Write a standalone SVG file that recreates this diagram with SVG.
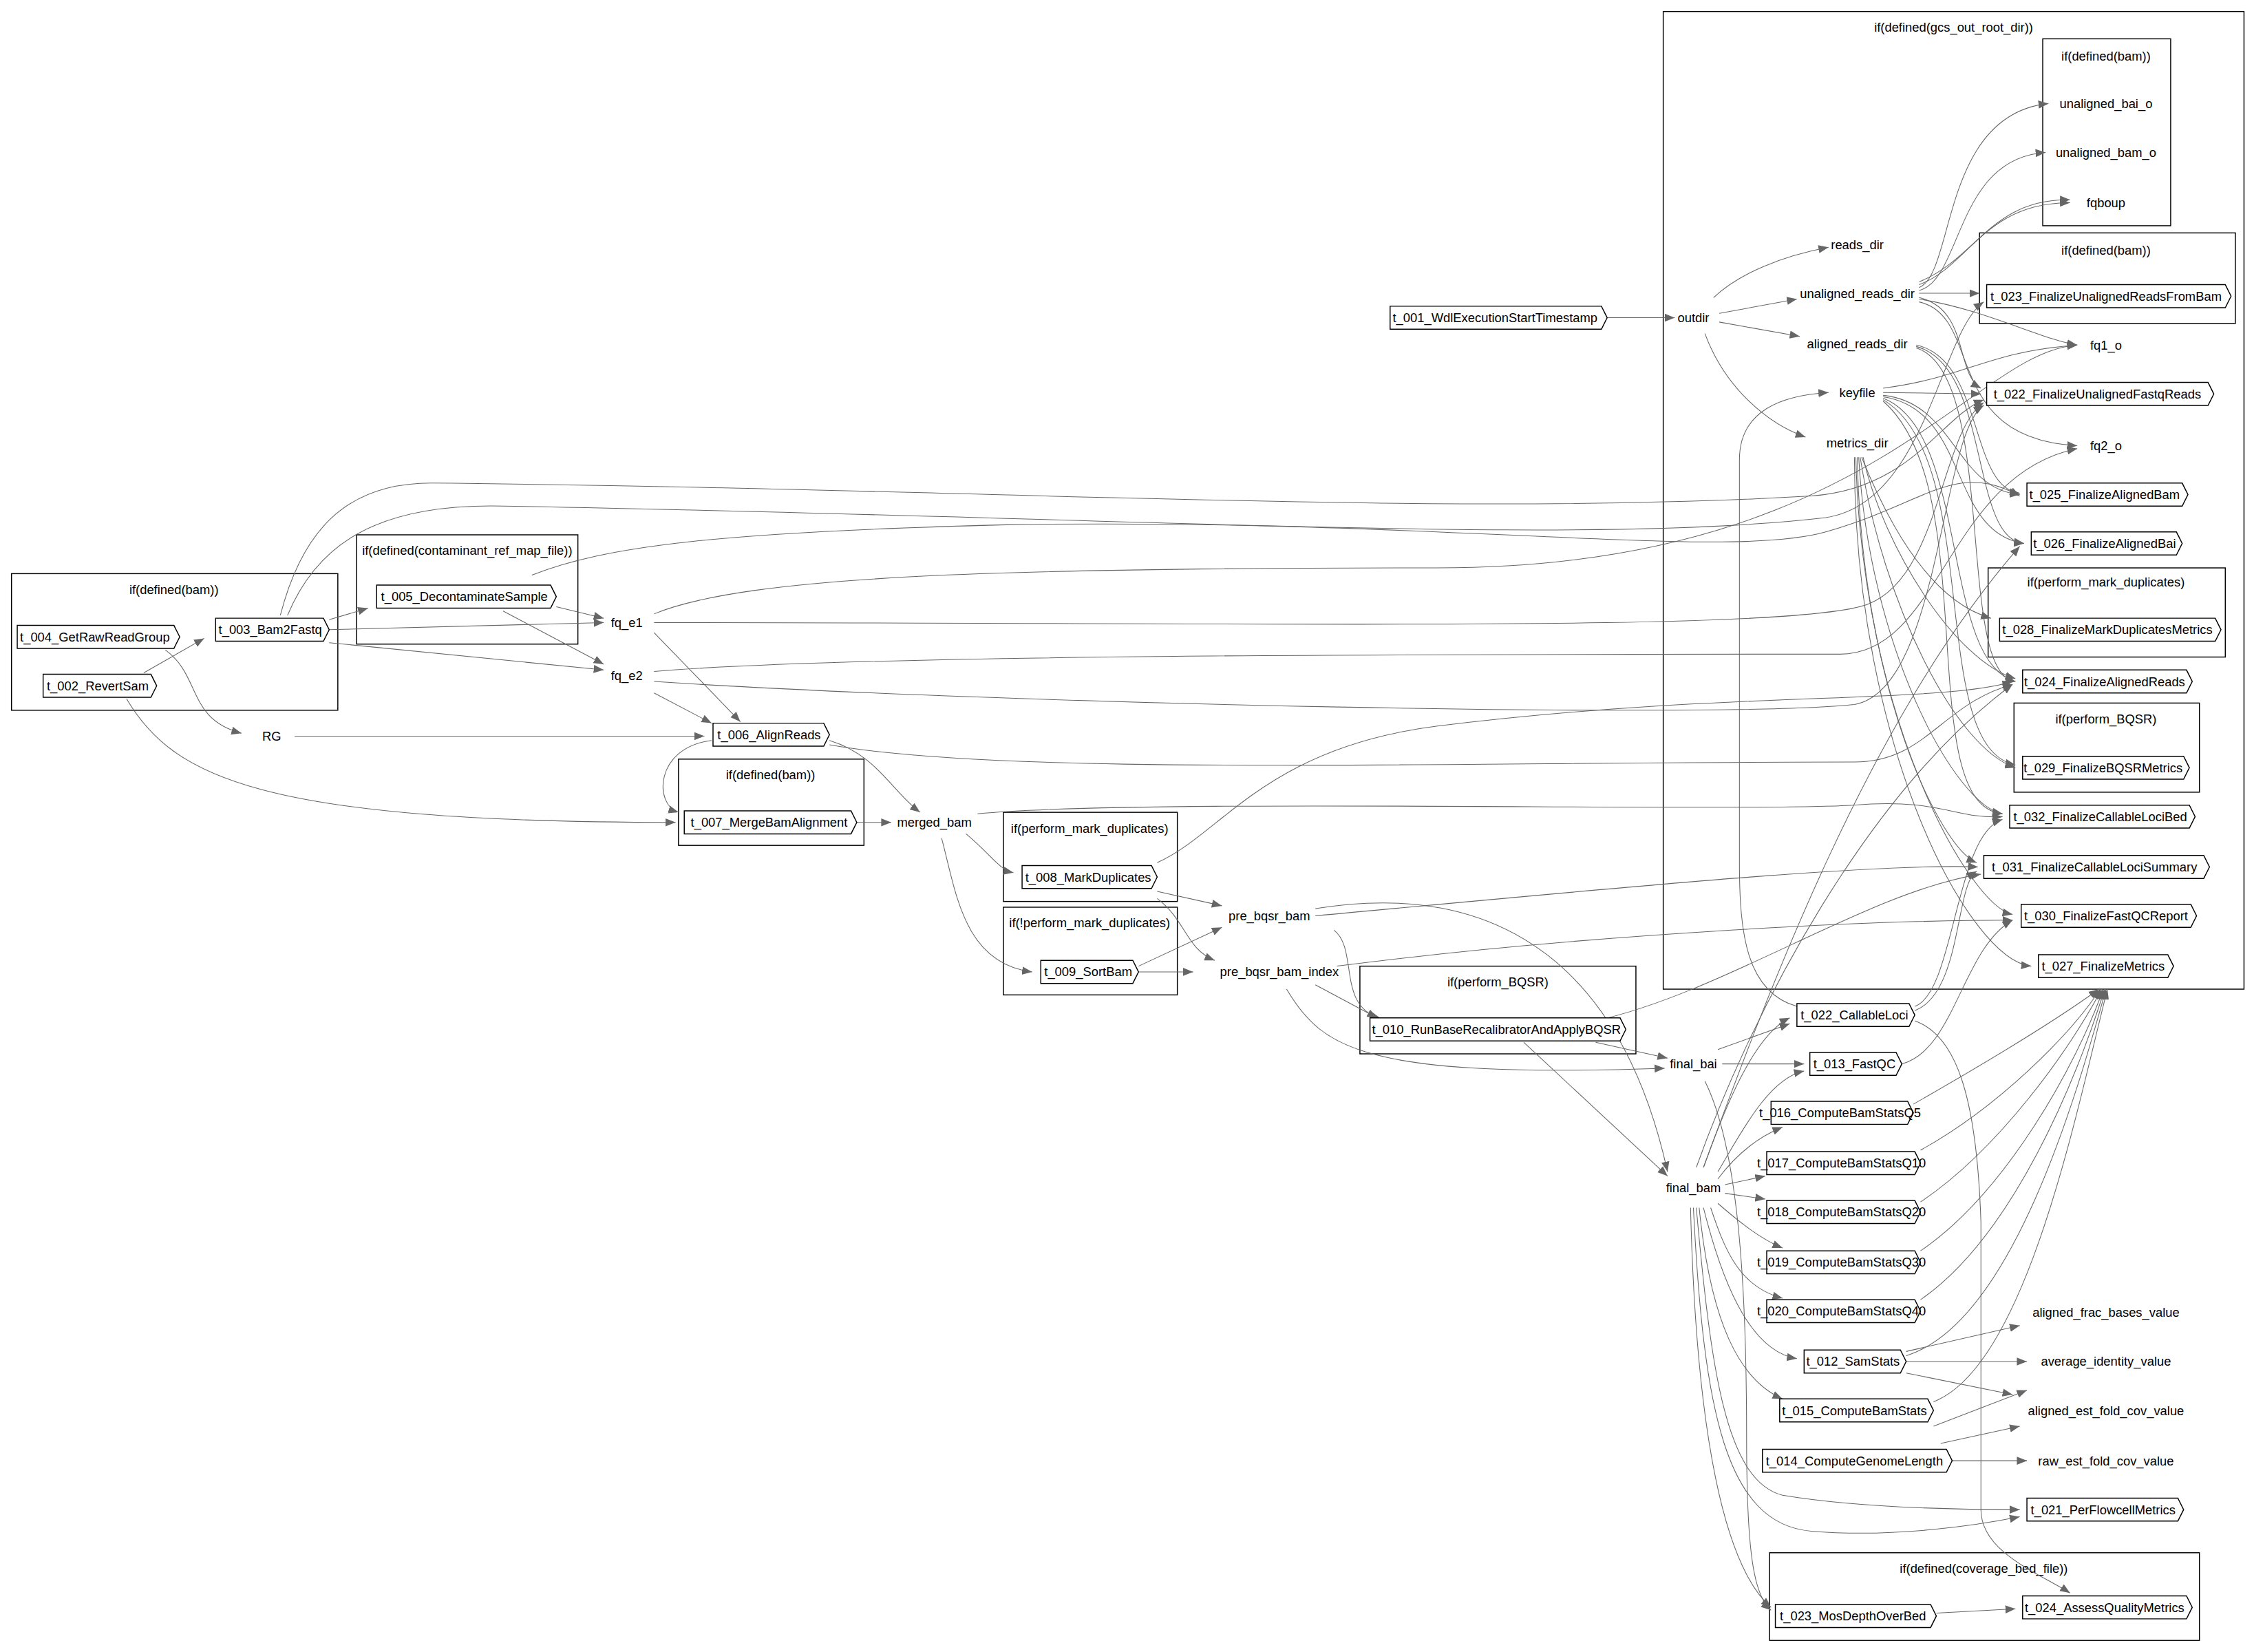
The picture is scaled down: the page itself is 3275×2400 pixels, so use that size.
<svg xmlns="http://www.w3.org/2000/svg" width="3275" height="2400" viewBox="0 0 3275 2400">
<style>
text{font-family:"Liberation Sans",Arial,sans-serif;font-size:8.8px;fill:#000;text-anchor:middle;dominant-baseline:central}
.cl{fill:none;stroke:#000;stroke-width:0.7}
.nd{fill:#fff;stroke:#000;stroke-width:0.7}
#edges path{fill:none;stroke:#666;stroke-width:0.5;marker-end:url(#ah)}
</style>
<defs><marker id="ah" viewBox="0 0 10 10" refX="10" refY="5" markerWidth="7" markerHeight="7" markerUnits="userSpaceOnUse" orient="auto"><path d="M0,1 L10,5 L0,9 Z" fill="#666"/></marker></defs>
<rect width="3275" height="2400" fill="#fff"/>
<g transform="scale(2.0887)">
<g id="clusters">
<rect class="cl" x="1157" y="8" width="404" height="680"/><text x="1359" y="19">if(defined(gcs_out_root_dir))</text>
<rect class="cl" x="1421" y="27" width="89" height="130"/><text x="1465" y="39">if(defined(bam))</text>
<rect class="cl" x="1377" y="162" width="178" height="63"/><text x="1465" y="174">if(defined(bam))</text>
<rect class="cl" x="1383" y="395" width="165" height="62"/><text x="1465" y="405">if(perform_mark_duplicates)</text>
<rect class="cl" x="1401" y="489" width="129" height="62"/><text x="1465" y="500">if(perform_BQSR)</text>
<rect class="cl" x="8" y="399" width="227" height="95"/><text x="121" y="410">if(defined(bam))</text>
<rect class="cl" x="248" y="372" width="154" height="76"/><text x="325" y="383">if(defined(contaminant_ref_map_file))</text>
<rect class="cl" x="472" y="528" width="129" height="60"/><text x="536" y="539">if(defined(bam))</text>
<rect class="cl" x="698" y="565" width="121" height="62"/><text x="758" y="576">if(perform_mark_duplicates)</text>
<rect class="cl" x="698" y="631" width="121" height="61"/><text x="758" y="642">if(!perform_mark_duplicates)</text>
<rect class="cl" x="946" y="672" width="192" height="61"/><text x="1042" y="683">if(perform_BQSR)</text>
<rect class="cl" x="1231" y="1080" width="299" height="61"/><text x="1380" y="1091">if(defined(coverage_bed_file))</text>
</g>
<g id="edges">
<path d="M1118,221 L1165,221"/>
<path d="M1192,207 C1210,190 1240,178 1272,172"/>
<path d="M1196,218 L1250,208"/>
<path d="M1196,224 L1252,234"/>
<path d="M1186,232 C1200,270 1230,295 1256,304"/>
<path d="M100,468 L142,444"/>
<path d="M88,486 C120,540 180,572 470,572"/>
<path d="M115,452 C140,470 130,500 168,510"/>
<path d="M229,431 L256,423"/>
<path d="M229,438 L420,433"/>
<path d="M229,447 L420,466"/>
<path d="M195,428 C210,370 240,336 300,336 C700,340 1000,360 1260,345 C1330,340 1350,290 1380,278"/>
<path d="M200,428 C220,380 260,350 350,352 C800,360 1100,380 1270,360 C1340,350 1350,230 1380,210"/>
<path d="M370,400 C420,380 500,370 700,365 C1000,360 1200,390 1270,370 C1340,350 1360,320 1405,345"/>
<path d="M387,422 L420,430"/>
<path d="M350,425 L420,462"/>
<path d="M455,440 L515,502"/>
<path d="M455,482 L495,503"/>
<path d="M455,427 C520,400 700,395 1000,395 C1300,395 1370,245 1445,240"/>
<path d="M455,433 C900,433 1250,440 1300,420 C1350,400 1350,300 1380,280"/>
<path d="M455,467 C600,455 1000,455 1280,455 C1350,455 1355,330 1445,312"/>
<path d="M455,474 C700,490 1200,500 1290,490 C1350,480 1350,300 1380,282"/>
<path d="M205,512 L490,512"/>
<path d="M495,515 C455,520 455,560 472,565"/>
<path d="M577,515 C610,525 620,550 640,565"/>
<path d="M577,518 C700,540 1000,530 1290,530 C1340,530 1350,490 1400,476"/>
<path d="M596,572 L620,572"/>
<path d="M672,580 C690,595 695,605 705,607"/>
<path d="M655,583 C665,620 670,670 718,676"/>
<path d="M680,566 C800,555 1200,565 1290,560 C1350,555 1360,570 1393,568"/>
<path d="M805,620 L850,630"/>
<path d="M805,625 C825,640 825,660 845,668"/>
<path d="M805,600 C850,580 880,520 1000,505 C1200,480 1350,490 1400,474"/>
<path d="M792,672 L850,645"/>
<path d="M792,676 L830,676"/>
<path d="M928,647 C945,660 930,700 960,708"/>
<path d="M915,632 C1050,610 1130,680 1160,815"/>
<path d="M915,637 C1100,620 1300,600 1376,603"/>
<path d="M915,685 L958,708"/>
<path d="M895,688 C920,730 950,750 1158,743"/>
<path d="M930,672 C1100,650 1300,640 1400,640"/>
<path d="M1110,725 L1160,736"/>
<path d="M1060,725 L1160,818"/>
<path d="M1110,710 C1200,690 1300,620 1378,608"/>
<path d="M1195,730 L1245,712"/>
<path d="M1198,740 L1255,740"/>
<path d="M1186,752 C1210,800 1215,900 1215,1000 C1215,1080 1220,1110 1232,1120"/>
<path d="M1185,812 C1200,770 1220,720 1245,708"/>
<path d="M1195,815 C1210,790 1230,750 1255,745"/>
<path d="M1195,820 C1210,800 1225,790 1240,784"/>
<path d="M1200,824 L1228,818"/>
<path d="M1200,830 L1228,834"/>
<path d="M1195,837 C1210,850 1225,862 1240,868"/>
<path d="M1190,840 C1200,870 1210,895 1240,903"/>
<path d="M1185,840 C1200,900 1220,940 1250,945"/>
<path d="M1182,840 C1190,920 1210,960 1240,973"/>
<path d="M1180,840 C1190,950 1200,1030 1240,1040 C1300,1050 1380,1050 1405,1050"/>
<path d="M1178,840 C1185,980 1200,1060 1260,1065 C1320,1070 1380,1060 1405,1055"/>
<path d="M1176,840 C1180,1000 1200,1090 1232,1118"/>
<path d="M1180,812 C1220,700 1300,550 1400,476"/>
<path d="M1185,812 C1230,690 1300,500 1405,380"/>
<path d="M1250,700 C1215,690 1210,650 1210,600 L1210,320 C1210,285 1240,275 1272,273"/>
<path d="M1310,270 C1370,262 1380,245 1445,240"/>
<path d="M1310,273 L1378,274"/>
<path d="M1310,275 C1360,280 1360,340 1405,344"/>
<path d="M1310,276 C1370,285 1355,370 1408,378"/>
<path d="M1310,277 C1370,300 1350,460 1402,474"/>
<path d="M1310,278 C1380,320 1340,520 1402,532"/>
<path d="M1310,279 C1380,340 1330,560 1393,566"/>
<path d="M1335,200 C1360,190 1350,80 1425,72"/>
<path d="M1335,202 C1365,195 1360,110 1423,106"/>
<path d="M1335,198 C1370,185 1380,141 1440,141"/>
<path d="M1335,196 C1375,180 1385,138 1440,139"/>
<path d="M1335,204 L1377,204"/>
<path d="M1335,208 C1380,215 1420,236 1445,240"/>
<path d="M1335,207 C1370,215 1360,260 1378,270"/>
<path d="M1335,210 C1380,220 1350,305 1445,310"/>
<path d="M1333,240 C1380,250 1370,340 1405,343"/>
<path d="M1333,241 C1385,255 1370,375 1408,378"/>
<path d="M1333,242 C1390,260 1360,470 1402,474"/>
<path d="M1295,318 C1320,380 1350,420 1385,430"/>
<path d="M1294,318 C1310,420 1360,520 1402,534"/>
<path d="M1293,318 C1300,450 1360,560 1393,566"/>
<path d="M1292,318 C1295,480 1350,590 1375,600"/>
<path d="M1291,318 C1295,500 1370,630 1400,636"/>
<path d="M1290,318 C1290,520 1370,668 1413,672"/>
<path d="M1296,318 C1310,380 1360,460 1402,472"/>
<path d="M1331,768 C1380,740 1430,710 1460,688"/>
<path d="M1336,800 C1390,770 1440,720 1461,688"/>
<path d="M1336,836 C1390,800 1440,730 1462,688"/>
<path d="M1336,870 C1395,830 1445,740 1463,688"/>
<path d="M1336,904 C1400,860 1445,750 1464,688"/>
<path d="M1326,943 C1400,920 1445,760 1465,688"/>
<path d="M1345,975 C1410,950 1445,770 1466,688"/>
<path d="M1326,940 L1405,922"/>
<path d="M1326,947 L1410,947"/>
<path d="M1326,955 L1400,970"/>
<path d="M1345,1032 L1410,1007" transform="translate(0,-40)"/>
<path d="M1350,1004 L1405,992"/>
<path d="M1358,1016 L1410,1016"/>
<path d="M1332,700 C1360,690 1360,580 1393,570"/>
<path d="M1332,703 C1365,690 1360,615 1375,606"/>
<path d="M1332,710 C1360,720 1375,760 1378,850 L1378,1050 C1378,1080 1420,1095 1440,1108"/>
<path d="M1323,740 C1360,730 1365,660 1400,640"/>
<path d="M1347,1122 L1402,1119"/>
</g>
<g id="nodes">
<g id="t001"><path class="nd" d="M967,213 H1114 L1118,221 L1114,229 H967 Z"/><text x="1040" y="221">t_001_WdlExecutionStartTimestamp</text></g>
<g id="outdir"><text x="1178" y="221">outdir</text></g>
<g id="reads_dir"><text x="1292" y="170">reads_dir</text></g>
<g id="unaligned_reads_dir"><text x="1292" y="204">unaligned_reads_dir</text></g>
<g id="aligned_reads_dir"><text x="1292" y="239">aligned_reads_dir</text></g>
<g id="keyfile"><text x="1292" y="273">keyfile</text></g>
<g id="metrics_dir"><text x="1292" y="308">metrics_dir</text></g>
<g id="unaligned_bai_o"><text x="1465" y="72">unaligned_bai_o</text></g>
<g id="unaligned_bam_o"><text x="1465" y="106">unaligned_bam_o</text></g>
<g id="fqboup"><text x="1465" y="141">fqboup</text></g>
<g id="t023f"><path class="nd" d="M1382,198 H1548 L1552,206 L1548,214 H1382 Z"/><text x="1465" y="206">t_023_FinalizeUnalignedReadsFromBam</text></g>
<g id="fq1_o"><text x="1465" y="240">fq1_o</text></g>
<g id="t022f"><path class="nd" d="M1382,266 H1536 L1540,274 L1536,282 H1382 Z"/><text x="1459" y="274">t_022_FinalizeUnalignedFastqReads</text></g>
<g id="fq2_o"><text x="1465" y="310">fq2_o</text></g>
<g id="t025"><path class="nd" d="M1410,336 H1518 L1522,344 L1518,352 H1410 Z"/><text x="1464" y="344">t_025_FinalizeAlignedBam</text></g>
<g id="t026"><path class="nd" d="M1413,370 H1514 L1518,378 L1514,386 H1413 Z"/><text x="1464" y="378">t_026_FinalizeAlignedBai</text></g>
<g id="t028"><path class="nd" d="M1391,430 H1541 L1545,438 L1541,446 H1391 Z"/><text x="1466" y="438">t_028_FinalizeMarkDuplicatesMetrics</text></g>
<g id="t024f"><path class="nd" d="M1407,466 H1521 L1525,474 L1521,482 H1407 Z"/><text x="1464" y="474">t_024_FinalizeAlignedReads</text></g>
<g id="t029"><path class="nd" d="M1407,526 H1519 L1523,534 L1519,542 H1407 Z"/><text x="1463" y="534">t_029_FinalizeBQSRMetrics</text></g>
<g id="t032"><path class="nd" d="M1398,560 H1523 L1527,568 L1523,576 H1398 Z"/><text x="1461" y="568">t_032_FinalizeCallableLociBed</text></g>
<g id="t031"><path class="nd" d="M1380,595 H1533 L1537,603 L1533,611 H1380 Z"/><text x="1457" y="603">t_031_FinalizeCallableLociSummary</text></g>
<g id="t030"><path class="nd" d="M1406,629 H1524 L1528,637 L1524,645 H1406 Z"/><text x="1465" y="637">t_030_FinalizeFastQCReport</text></g>
<g id="t027"><path class="nd" d="M1418,664 H1508 L1512,672 L1508,680 H1418 Z"/><text x="1463" y="672">t_027_FinalizeMetrics</text></g>
<g id="t004"><path class="nd" d="M12,435 H121 L125,443 L121,451 H12 Z"/><text x="66" y="443">t_004_GetRawReadGroup</text></g>
<g id="t003"><path class="nd" d="M150,430 H225 L229,438 L225,446 H150 Z"/><text x="188" y="438">t_003_Bam2Fastq</text></g>
<g id="t002"><path class="nd" d="M30,469 H105 L109,477 L105,485 H30 Z"/><text x="68" y="477">t_002_RevertSam</text></g>
<g id="t005"><path class="nd" d="M262,407 H383 L387,415 L383,423 H262 Z"/><text x="323" y="415">t_005_DecontaminateSample</text></g>
<g id="fq_e1"><text x="436" y="433">fq_e1</text></g>
<g id="fq_e2"><text x="436" y="470">fq_e2</text></g>
<g id="RG"><text x="189" y="512">RG</text></g>
<g id="t006"><path class="nd" d="M496,503 H573 L577,511 L573,519 H496 Z"/><text x="535" y="511">t_006_AlignReads</text></g>
<g id="t007"><path class="nd" d="M476,564 H592 L596,572 L592,580 H476 Z"/><text x="535" y="572">t_007_MergeBamAlignment</text></g>
<g id="merged_bam"><text x="650" y="572">merged_bam</text></g>
<g id="t008"><path class="nd" d="M711,602 H801 L805,610 L801,618 H711 Z"/><text x="757" y="610">t_008_MarkDuplicates</text></g>
<g id="t009"><path class="nd" d="M724,668 H788 L792,676 L788,684 H724 Z"/><text x="757" y="676">t_009_SortBam</text></g>
<g id="pre_bqsr_bam"><text x="883" y="637">pre_bqsr_bam</text></g>
<g id="pre_bqsr_bam_index"><text x="890" y="676">pre_bqsr_bam_index</text></g>
<g id="t010"><path class="nd" d="M953,708 H1127 L1131,716 L1127,724 H953 Z"/><text x="1041" y="716">t_010_RunBaseRecalibratorAndApplyBQSR</text></g>
<g id="final_bai"><text x="1178" y="740">final_bai</text></g>
<g id="final_bam"><text x="1178" y="826">final_bam</text></g>
<g id="t022c"><path class="nd" d="M1250,698 H1328 L1332,706 L1328,714 H1250 Z"/><text x="1290" y="706">t_022_CallableLoci</text></g>
<g id="t013"><path class="nd" d="M1259,732 H1319 L1323,740 L1319,748 H1259 Z"/><text x="1290" y="740">t_013_FastQC</text></g>
<g id="t016"><path class="nd" d="M1232,766 H1327 L1331,774 L1327,782 H1232 Z"/><text x="1280" y="774">t_016_ComputeBamStatsQ5</text></g>
<g id="t017"><path class="nd" d="M1229,801 H1332 L1336,809 L1332,817 H1229 Z"/><text x="1281" y="809">t_017_ComputeBamStatsQ10</text></g>
<g id="t018"><path class="nd" d="M1229,835 H1332 L1336,843 L1332,851 H1229 Z"/><text x="1281" y="843">t_018_ComputeBamStatsQ20</text></g>
<g id="t019"><path class="nd" d="M1229,870 H1332 L1336,878 L1332,886 H1229 Z"/><text x="1281" y="878">t_019_ComputeBamStatsQ30</text></g>
<g id="t020"><path class="nd" d="M1229,904 H1332 L1336,912 L1332,920 H1229 Z"/><text x="1281" y="912">t_020_ComputeBamStatsQ40</text></g>
<g id="t012"><path class="nd" d="M1255,939 H1322 L1326,947 L1322,955 H1255 Z"/><text x="1289" y="947">t_012_SamStats</text></g>
<g id="t015"><path class="nd" d="M1238,973 H1341 L1345,981 L1341,989 H1238 Z"/><text x="1290" y="981">t_015_ComputeBamStats</text></g>
<g id="t014"><path class="nd" d="M1226,1008 H1354 L1358,1016 L1354,1024 H1226 Z"/><text x="1290" y="1016">t_014_ComputeGenomeLength</text></g>
<g id="aligned_frac_bases_value"><text x="1465" y="913">aligned_frac_bases_value</text></g>
<g id="average_identity_value"><text x="1465" y="947">average_identity_value</text></g>
<g id="aligned_est_fold_cov_value"><text x="1465" y="981">aligned_est_fold_cov_value</text></g>
<g id="raw_est_fold_cov_value"><text x="1465" y="1016">raw_est_fold_cov_value</text></g>
<g id="t021"><path class="nd" d="M1410,1042 H1515 L1519,1050 L1515,1058 H1410 Z"/><text x="1463" y="1050">t_021_PerFlowcellMetrics</text></g>
<g id="t023m"><path class="nd" d="M1235,1116 H1343 L1347,1124 L1343,1132 H1235 Z"/><text x="1289" y="1124">t_023_MosDepthOverBed</text></g>
<g id="t024a"><path class="nd" d="M1407,1110 H1521 L1525,1118 L1521,1126 H1407 Z"/><text x="1464" y="1118">t_024_AssessQualityMetrics</text></g>
</g>
</g>
</svg>
